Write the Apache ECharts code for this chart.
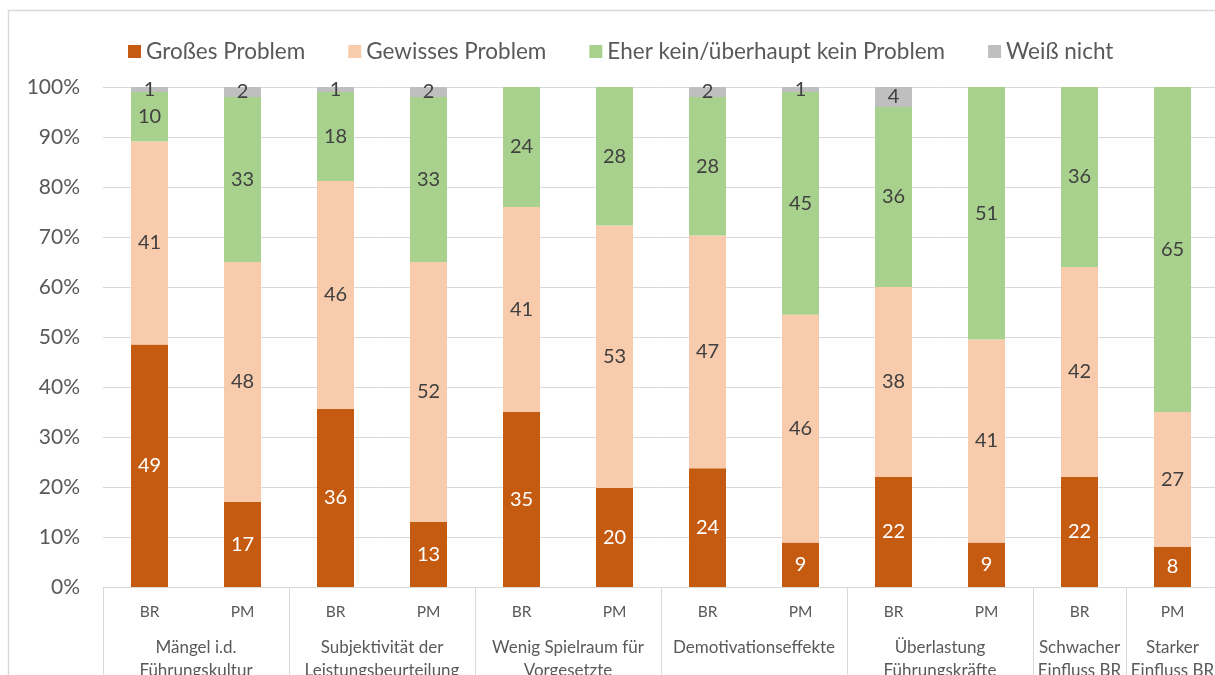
<!DOCTYPE html>
<html>
<head>
<meta charset="utf-8">
<script src="https://cdn.jsdelivr.net/npm/echarts@6/dist/echarts.min.js"></script>
<style>
  html, body { margin: 0; padding: 0; background: #fff; }
  #chart { width: 1215px; height: 675px; }
</style>
</head>
<body>
<div id="chart"></div>
<script>
// Survey answers per group (BR = Betriebsrat, PM = Personalmanagement), in percent
const categories = ['BR', 'PM', 'BR', 'PM', 'BR', 'PM', 'BR', 'PM', 'BR', 'PM', 'BR', 'PM'];
const groupNames = [
  'Mängel i.d.\nFührungskultur',
  'Subjektivität der\nLeistungsbeurteilung',
  'Wenig Spielraum für\nVorgesetzte',
  'Demotivationseffekte',
  'Überlastung\nFührungskräfte',
  'Schwacher\nEinfluss BR',
  'Starker\nEinfluss BR'
];
const groupSizes = [2, 2, 2, 2, 2, 1, 1];

const seriesNames = ['Großes Problem', 'Gewisses Problem', 'Eher kein/überhaupt kein Problem', 'Weiß nicht'];
const grossesProblem  = [49, 17, 36, 13, 35, 20, 24, 9, 22, 9, 22, 8];
const gewissesProblem = [41, 48, 46, 52, 41, 53, 47, 46, 38, 41, 42, 27];
const keinProblem     = [10, 33, 18, 33, 24, 28, 28, 45, 36, 51, 36, 65];
const weissNicht      = [1, 2, 1, 2, null, null, 2, 1, 4, null, null, null];

const yTicks = [0, 10, 20, 30, 40, 50, 60, 70, 80, 90, 100];

const colors = ['#C55A11', '#F8CBAD', '#A9D18E', '#BFBFBF'];
const labelColors = ['#ffffff', '#404040', '#404040', '#404040'];
const FONT = 'Lato';

const raw = [grossesProblem, gewissesProblem, keinProblem, weissNicht];
// 100 % stacking: every column is scaled to its own total
const totals = categories.map((_, i) => raw.reduce((s, arr) => s + (arr[i] || 0), 0));

// group boundaries (category index where each group starts) and label centres
const groupStarts = [];
const centreLabels = {};
let acc = 0;
groupSizes.forEach((n, g) => {
  groupStarts.push(acc);
  centreLabels[String(acc + n / 2)] = groupNames[g];
  acc += n;
});

const series = raw.map((arr, s) => ({
  name: seriesNames[s],
  type: 'bar',
  stack: 'total',
  barWidth: 37,
  itemStyle: { color: colors[s] },
  label: {
    show: true,
    position: 'inside',
    color: labelColors[s],
    fontFamily: FONT,
    fontSize: 20,
    formatter: p => (arr[p.dataIndex] == null ? '' : String(arr[p.dataIndex]))
  },
  data: arr.map((v, i) => (v == null ? null : v / totals[i] * 100))
}));

const chart = echarts.init(document.getElementById('chart'), null, { renderer: 'canvas' });
chart.setOption({
  animation: false,
  backgroundColor: '#ffffff',
  graphic: [{
    type: 'rect',
    z: -10,
    shape: { x: 8.5, y: 10.5, width: 1400, height: 900 },
    style: { fill: 'none', stroke: '#d9d9d9', lineWidth: 1.5 }
  }],
  legend: {
    left: 123,
    top: 35,
    itemWidth: 13,
    itemHeight: 13,
    itemGap: 43,
    icon: 'rect',
    data: seriesNames,
    textStyle: { color: '#595959', fontFamily: FONT, fontSize: 22.5 }
  },
  grid: { left: 103, right: -4, top: 87, height: 500, containLabel: false, outerBoundsMode: 'none' },
  yAxis: {
    type: 'value',
    min: yTicks[0],
    max: yTicks[yTicks.length - 1],
    interval: yTicks[1] - yTicks[0],
    axisLine: { show: false },
    axisTick: { show: false },
    splitLine: { lineStyle: { color: '#d9d9d9', width: 1 } },
    axisLabel: { formatter: '{value}%', color: '#595959', fontFamily: FONT, fontSize: 21, margin: 23 }
  },
  xAxis: [{
    type: 'category',
    data: categories,
    axisLine: { lineStyle: { color: '#d9d9d9', width: 1 } },
    axisTick: {
      show: true,
      length: 95,
      interval: idx => groupStarts.indexOf(idx) !== -1,
      lineStyle: { color: '#d9d9d9', width: 1 }
    },
    axisLabel: { color: '#595959', fontFamily: FONT, fontSize: 15.5, margin: 17 }
  }, {
    type: 'value',
    position: 'bottom',
    min: 0,
    max: categories.length,
    interval: 0.5,
    axisLine: { show: false },
    axisTick: { show: false },
    splitLine: { show: false },
    axisLabel: {
      color: '#595959', fontFamily: FONT, fontSize: 17, lineHeight: 23, margin: 49,
      formatter: v => centreLabels[String(v)] || ''
    }
  }],
  series: series
});
</script>
</body>
</html>
